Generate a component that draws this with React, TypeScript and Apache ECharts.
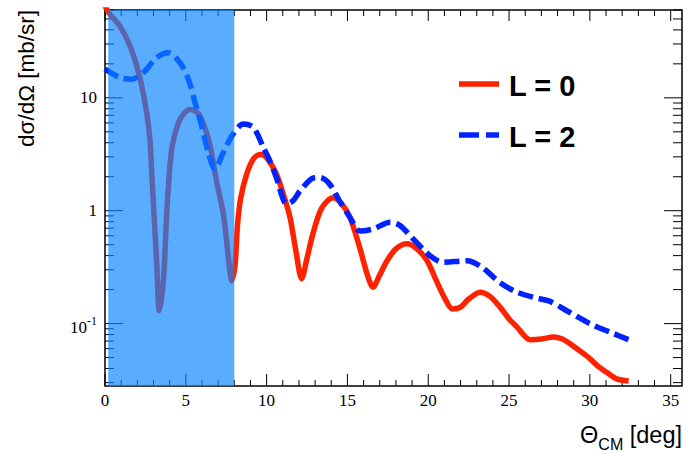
import React, { useEffect, useRef } from "react";
import * as echarts from "echarts";

// ---- data ----
const l0Deg = [0, 0.31, 0.93, 1.55, 1.96, 2.27, 2.58, 2.78, 2.92, 3.03, 3.2, 3.36, 3.61, 3.82, 3.92, 4.13, 4.54, 4.9, 5.26, 5.6, 5.88, 6.2, 6.5, 6.91, 7.32, 7.63, 7.84, 8.04, 8.2, 8.4, 8.77, 9.2, 9.6, 10.0, 10.6, 11.0, 11.45, 11.8, 12.17, 12.5, 12.87, 13.4, 14.1, 14.6, 15.16, 15.8, 16.2, 16.58, 17.0, 17.45, 18.0, 18.69, 19.3, 19.93, 20.5, 21.0, 21.5, 22.0, 22.5, 23.2, 23.8, 24.44, 25.0, 25.5, 26.3, 27.0, 27.74, 28.3, 28.8, 29.4, 30.0, 30.5, 31.04, 31.66, 32.4];
const l0Val = [65, 55, 43, 28.8, 19.2, 12.8, 7.4, 4.3, 1.84, 0.94, 0.34, 0.13, 0.24, 0.94, 1.6, 3.54, 6.0, 7.3, 7.9, 7.6, 6.9, 5.3, 3.76, 1.8, 0.94, 0.39, 0.24, 0.32, 0.75, 1.3, 2.12, 2.9, 3.15, 2.95, 2.12, 1.45, 0.87, 0.45, 0.25, 0.38, 0.63, 1.05, 1.3, 1.17, 0.87, 0.45, 0.28, 0.21, 0.27, 0.36, 0.46, 0.51, 0.46, 0.36, 0.24, 0.17, 0.135, 0.14, 0.165, 0.19, 0.175, 0.14, 0.11, 0.093, 0.072, 0.073, 0.076, 0.073, 0.066, 0.057, 0.049, 0.042, 0.037, 0.0324, 0.031];

const l2Deg = [0, 0.93, 1.65, 2.37, 3.2, 3.92, 4.64, 5.16, 5.57, 5.98, 6.39, 6.8, 7.32, 7.93, 8.56, 9.18, 9.8, 10.2, 10.6, 11.24, 11.65, 12.07, 12.9, 13.3, 13.9, 14.5, 15.16, 15.78, 16.6, 17.64, 18.25, 19.08, 20.1, 20.9, 22.4, 23.4, 24.44, 25.48, 26.5, 27.5, 28.57, 30.0, 31.25, 32.5];
const l2Val = [18, 15.1, 14.6, 16.7, 22.7, 25.1, 20.5, 14.6, 9.1, 5.65, 3.28, 2.34, 3.28, 4.8, 5.85, 5.48, 3.63, 2.77, 1.97, 1.15, 1.23, 1.5, 1.95, 1.97, 1.72, 1.23, 0.87, 0.66, 0.69, 0.79, 0.74, 0.56, 0.4, 0.35, 0.36, 0.31, 0.23, 0.19, 0.171, 0.158, 0.13, 0.1, 0.084, 0.071];

const shadedRange = [0.2, 8];

const X_MIN = 0;
const X_MAX = 35.7;
const Y_MIN = 0.028;
const Y_MAX = 60;

const xMajorTicks = [0, 5, 10, 15, 20, 25, 30, 35];
const xMinorTicks = [1, 2, 3, 4, 6, 7, 8, 9, 11, 12, 13, 14, 16, 17, 18, 19, 21, 22, 23, 24, 26, 27, 28, 29, 31, 32, 33, 34];
const yMajorTicks = [0.1, 1, 10];
const yMinorTicks = [0.03, 0.04, 0.05, 0.06, 0.07, 0.08, 0.09, 0.2, 0.3, 0.4, 0.5, 0.6, 0.7, 0.8, 0.9, 2, 3, 4, 5, 6, 7, 8, 9, 20, 30, 40, 50, 60];

const seriesNames = ["L = 0", "L = 2"];
const xTitle = "Θ";
const xTitleSub = "CM";
const xTitleUnit = " [deg]";
const yTitle = "dσ/dΩ [mb/sr]";

const RED = "#ff2200";
const BLUE = "#0022ff";
const SERIF = "'Liberation Serif', 'Times New Roman', 'DejaVu Serif', serif";
const SANS = "'Liberation Sans', Arial, sans-serif";

export default function App() {
  const ref = useRef<HTMLDivElement>(null);

  useEffect(() => {
    if (!ref.current) return;
    const chart = echarts.init(ref.current, undefined, { renderer: "svg" });

    const xTickData = [
      ...xMajorTicks.map((v) => [v, Y_MIN, 1]),
      ...xMinorTicks.map((v) => [v, Y_MIN, 0]),
    ];
    const yTickData = [
      ...yMajorTicks.map((v) => [X_MIN, v, 1]),
      ...yMinorTicks.map((v) => [X_MIN, v, 0]),
    ];

    const tickStyle = { stroke: "#000", lineWidth: 1 };

    const option: any = {
      animation: false,
      backgroundColor: "#fff",
      grid: {
        left: 105,
        right: 11,
        top: 10,
        bottom: 68,
        show: true,
        borderColor: "#000",
        borderWidth: 1.5,
        backgroundColor: "transparent",
      },
      xAxis: {
        type: "value",
        min: X_MIN,
        max: X_MAX,
        interval: 5,
        axisLine: { show: false },
        axisTick: { show: false },
        splitLine: { show: false },
        axisLabel: {
          margin: 6,
          fontFamily: SERIF,
          fontSize: 17,
          color: "#000",
          showMaxLabel: false,
          formatter: (v: number) =>
            Math.abs(v / 5 - Math.round(v / 5)) < 1e-6 && v <= 35 ? String(Math.round(v)) : "",
        },
      },
      yAxis: {
        type: "log",
        logBase: 10,
        min: Y_MIN,
        max: Y_MAX,
        axisLine: { show: false },
        axisTick: { show: false },
        splitLine: { show: false },
        axisLabel: {
          margin: 8,
          fontFamily: SERIF,
          fontSize: 17,
          color: "#000",
          showMinLabel: false,
          showMaxLabel: false,
          formatter: (v: number) => {
            const l = Math.log10(v);
            const r = Math.round(l);
            if (Math.abs(l - r) > 1e-3) return "";
            if (r === 1) return "10";
            if (r === 0) return "1";
            if (r === -1) return "{b|10}{s|-1}";
            return "";
          },
          rich: {
            b: { fontFamily: SERIF, fontSize: 17, lineHeight: 17, padding: [4, 0, 0, 0], verticalAlign: "top", color: "#000" },
            s: { fontFamily: SERIF, fontSize: 12, lineHeight: 12, verticalAlign: "top", color: "#000" },
          },
        },
      },
      series: [
        {
          type: "custom",
          name: "xticks",
          silent: true,
          clip: false,
          z: 1,
          data: xTickData,
          encode: { x: 0, y: 1 },
          renderItem: (params: any, api: any) => {
            const v = api.value(0);
            const major = api.value(2) === 1;
            const b = api.coord([v, Y_MIN]);
            const t = api.coord([v, Y_MAX]);
            const lb = major ? 12 : 6;
            const lt = major ? 11 : 6;
            return {
              type: "group",
              children: [
                { type: "line", shape: { x1: b[0], y1: b[1], x2: b[0], y2: b[1] - lb }, style: tickStyle },
                { type: "line", shape: { x1: t[0], y1: t[1], x2: t[0], y2: t[1] + lt }, style: tickStyle },
              ],
            };
          },
        },
        {
          type: "custom",
          name: "yticks",
          silent: true,
          clip: false,
          z: 1,
          data: yTickData,
          encode: { x: 0, y: 1 },
          renderItem: (params: any, api: any) => {
            const v = api.value(1);
            const major = api.value(2) === 1;
            const l = api.coord([X_MIN, v]);
            const r = api.coord([X_MAX, v]);
            const len = major ? 18 : 9;
            return {
              type: "group",
              children: [
                { type: "line", shape: { x1: l[0], y1: l[1], x2: l[0] + len, y2: l[1] }, style: tickStyle },
                { type: "line", shape: { x1: r[0], y1: r[1], x2: r[0] - len, y2: r[1] }, style: tickStyle },
              ],
            };
          },
        },
        {
          type: "line",
          name: seriesNames[0],
          z: 2,
          data: l0Deg.map((d, i) => [d, l0Val[i]]),
          smooth: 0.3,
          showSymbol: false,
          symbol: "none",
          color: RED,
          lineStyle: { color: RED, width: 5.5 },
        },
        {
          type: "line",
          name: seriesNames[1],
          z: 3,
          data: l2Deg.map((d, i) => [d, l2Val[i]]),
          smooth: 0.3,
          showSymbol: false,
          symbol: "none",
          color: BLUE,
          lineStyle: { color: BLUE, width: 5.5, type: [15, 6] },
        },
        {
          type: "custom",
          name: "shade",
          silent: true,
          z: 10,
          data: [[shadedRange[0], shadedRange[1]]],
          encode: { x: [0, 1] },
          renderItem: (params: any, api: any) => {
            const p0 = api.coord([api.value(0), Y_MAX]);
            const p1 = api.coord([api.value(1), Y_MIN]);
            return {
              type: "rect",
              z2: 100,
              shape: { x: p0[0], y: p0[1], width: p1[0] - p0[0], height: p1[1] - p0[1] },
              style: { fill: "rgba(12,133,255,0.68)" },
            };
          },
        },
      ],
      graphic: [
        {
          type: "text",
          x: 26,
          y: 10,
          rotation: Math.PI / 2,
          style: {
            text: yTitle,
            fontFamily: SANS,
            fontSize: 22.5,
            fill: "#000",
            align: "right",
            verticalAlign: "middle",
          },
        },
        {
          type: "text",
          x: 682,
          y: 423,
          style: {
            text: `{a|${xTitle}}{s|${xTitleSub}}{a|${xTitleUnit}}`,
            align: "right",
            verticalAlign: "top",
            rich: {
              a: { fontFamily: SANS, fontSize: 23.5, lineHeight: 23, verticalAlign: "top", fill: "#000" },
              s: { fontFamily: SANS, fontSize: 16, lineHeight: 16, padding: [13, 0, 0, 0], verticalAlign: "top", fill: "#000" },
            },
          },
        },
        // legend
        {
          type: "line",
          shape: { x1: 459, y1: 84, x2: 499, y2: 84 },
          style: { stroke: RED, lineWidth: 5.5 },
        },
        {
          type: "text",
          x: 509,
          y: 86,
          style: {
            text: seriesNames[0],
            fontFamily: SANS,
            fontWeight: "bold",
            fontSize: 29,
            fill: "#000",
            align: "left",
            verticalAlign: "middle",
          },
        },
        {
          type: "line",
          shape: { x1: 459, y1: 135, x2: 499, y2: 135 },
          style: { stroke: BLUE, lineWidth: 5.5, lineDash: [20, 7] },
        },
        {
          type: "text",
          x: 509,
          y: 137,
          style: {
            text: seriesNames[1],
            fontFamily: SANS,
            fontWeight: "bold",
            fontSize: 29,
            fill: "#000",
            align: "left",
            verticalAlign: "middle",
          },
        },
      ],
    };

    chart.setOption(option);
    return () => chart.dispose();
  }, []);

  return (
    <div
      ref={ref}
      style={{ position: "fixed", left: 0, top: 0, width: 693, height: 454, background: "#fff" }}
    />
  );
}
